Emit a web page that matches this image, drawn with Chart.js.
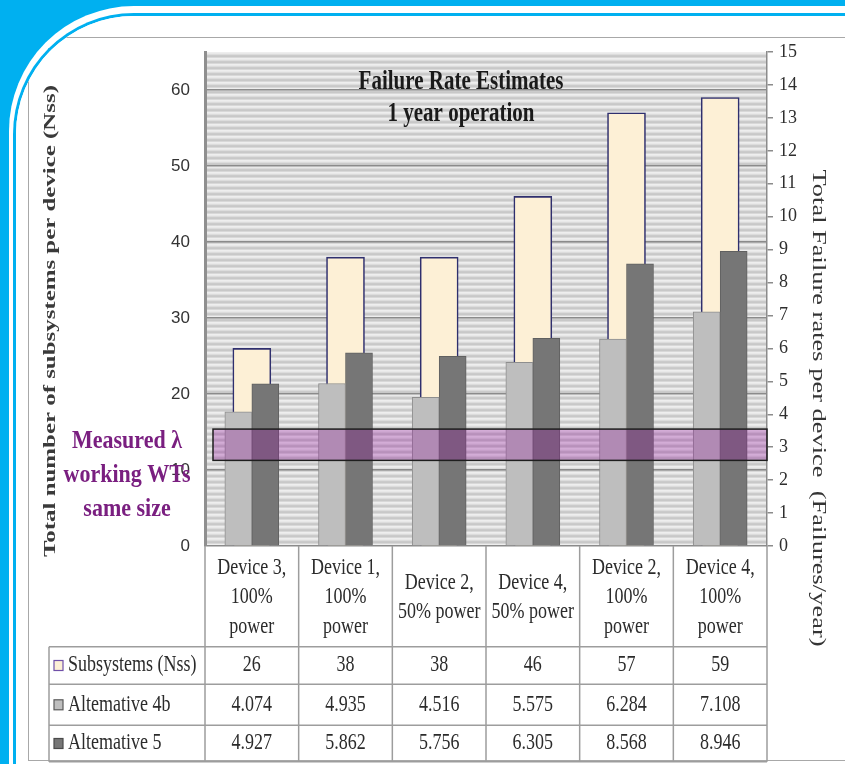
<!DOCTYPE html>
<html>
<head>
<meta charset="utf-8">
<script src="https://cdn.jsdelivr.net/npm/chart.js@4/dist/chart.umd.min.js"></script>
<style>
  html, body { margin: 0; padding: 0; }
  body { width: 845px; height: 764px; overflow: hidden; background: #00b0f0; position: relative; }
  .panel { position: absolute; left: 9px; top: 6px; width: 1000px; height: 1000px; background: #fff; border-top-left-radius: 125px; }
  .ring { position: absolute; left: 13px; top: 13px; width: 1000px; height: 1000px; border-left: 3px solid #00b0f0; border-top: 3px solid #00b0f0; border-top-left-radius: 121px; box-sizing: border-box; }
  .clip { position: absolute; left: 16px; top: 16px; width: 1000px; height: 1000px; border-top-left-radius: 118px; overflow: hidden; background: #fff; }
  .frame { position: absolute; left: 12px; top: 21px; width: 1000px; height: 724px; border: 1.5px solid #a8a8a8; box-sizing: border-box; }
  canvas { position: absolute; left: 0; top: 0; }
</style>
</head>
<body>
<div class="panel"></div>
<div class="ring"></div>
<div class="clip"><div class="frame"></div></div>
<canvas id="c" width="845" height="764"></canvas>
<script>
// Devices (column headers of the data table)
const CATEGORIES = [
  ["Device 3,", "100%", "power"],
  ["Device 1,", "100%", "power"],
  ["Device 2,", "50% power"],
  ["Device 4,", "50% power"],
  ["Device 2,", "100%", "power"],
  ["Device 4,", "100%", "power"]
];
// Number of subsystems per device (left axis)
const NSS = [26, 38, 38, 46, 57, 59];
// Failure rates per device, failures/year (right axis)
const ALT_4B = [4.074, 4.935, 4.516, 5.575, 6.284, 7.108];
const ALT_5 = [4.927, 5.862, 5.756, 6.305, 8.568, 8.946];
const SERIES_NAMES = ["Subsystems (Nss)", "Altemative 4b", "Altemative 5"];
// Measured failure rate range of working turbines of the same size
const MEASURED_BAND = [2.6, 3.55];
const NOTE_LINES = ["Measured \u03bb", "working WTs", "same size"];
const TITLE_LINES = ["Failure Rate Estimates", "1 year operation"];
const LEFT_AXIS = { min: 0, max: 65, step: 10, title: "Total number of subsystems per device (Nss)" };
const RIGHT_AXIS = { min: 0, max: 15, step: 1, title: "Total Failure rates per device  (Failures/year)" };

const SERIF = '"Liberation Serif", "Times New Roman", serif';
const CREAM = '#fdf0d6';
const LIGHT_GRAY = '#bebebe';
const DARK_GRAY = '#767676';

function drawText(ctx, text, x, y, font, color, o = {}) {
  ctx.save();
  ctx.font = font;
  ctx.fillStyle = color;
  ctx.textAlign = o.align || 'center';
  ctx.textBaseline = 'middle';
  ctx.translate(x, y);
  if (o.rot) ctx.rotate(o.rot);
  let sx = o.sx || 1;
  if (o.fit) sx = o.fit / ctx.measureText(text).width;
  ctx.scale(sx, o.sy || 1);
  ctx.fillText(text, 0, 0);
  ctx.restore();
}

function stripePattern(ctx) {
  const p = document.createElement('canvas');
  p.width = 8; p.height = 6;
  const pc = p.getContext('2d');
  const rows = ['#eeeeee', '#e9e9e9', '#dcdcdc', '#cbcbcb', '#c8c8c8', '#d8d8d8'];
  rows.forEach((c, i) => { pc.fillStyle = c; pc.fillRect(0, i, 8, 1); });
  return ctx.createPattern(p, 'repeat');
}

const backdrop = {
  id: 'backdrop',
  beforeDraw(chart) {
    const { ctx, chartArea: a } = chart;
    ctx.save();
    ctx.fillStyle = stripePattern(ctx);
    ctx.translate(0, a.top);
    ctx.fillRect(a.left, 0, a.right - a.left, a.bottom - a.top);
    ctx.restore();
  }
};

const overlay = {
  id: 'overlay',
  afterDatasetsDraw(chart) {
    const { ctx, chartArea: a } = chart;
    const y1 = chart.scales.y1;
    const top = y1.getPixelForValue(MEASURED_BAND[1]);
    const bot = y1.getPixelForValue(MEASURED_BAND[0]);
    ctx.save();
    ctx.fillStyle = 'rgba(150, 20, 160, 0.30)';
    ctx.fillRect(a.left + 8, top, a.right - a.left - 8, bot - top);
    ctx.strokeStyle = '#1e1e1e';
    ctx.lineWidth = 1.5;
    ctx.strokeRect(a.left + 8, top, a.right - a.left - 8, bot - top);
    ctx.restore();
  },
  afterDraw(chart) {
    const ctx = chart.ctx;
    // chart title inside the plot
    drawText(ctx, TITLE_LINES[0], 461, 82, 'bold 21px ' + SERIF, '#1a1a1a', { sy: 1.3 });
    drawText(ctx, TITLE_LINES[1], 461, 114, 'bold 21px ' + SERIF, '#1a1a1a', { sy: 1.3 });
    // note next to the measured range
    drawText(ctx, NOTE_LINES[0], 127, 442, 'bold 22px ' + SERIF, '#7a1f80', { sy: 1.12 });
    drawText(ctx, NOTE_LINES[1], 127, 476, 'bold 22px ' + SERIF, '#7a1f80', { sy: 1.12 });
    drawText(ctx, NOTE_LINES[2], 127, 510, 'bold 22px ' + SERIF, '#7a1f80', { sy: 1.12 });
    // axis titles
    drawText(ctx, LEFT_AXIS.title, 51, 321, 'bold 17px ' + SERIF, '#3a3a3a', { rot: -Math.PI / 2, fit: 472 });
    drawText(ctx, RIGHT_AXIS.title, 818, 408, '18px ' + SERIF, '#353535', { rot: Math.PI / 2, fit: 477 });
  }
};

const dataTable = {
  id: 'dataTable',
  afterDraw(chart) {
    const { ctx, chartArea: a } = chart;
    const xs = chart.scales.x;
    const n = CATEGORIES.length;
    const colW = (a.right - a.left) / n;
    const edges = [];
    for (let i = 0; i <= n; i++) edges.push(a.left + i * colW);
    const headTop = a.bottom, headBot = 646.7;
    const rowLines = [headBot, 684.3, 725.3, 761.7];
    const tableLeft = 49;

    ctx.save();
    ctx.strokeStyle = '#9d9d9d';
    ctx.lineWidth = 1.5;
    ctx.beginPath();
    edges.forEach(x => { ctx.moveTo(x, headTop); ctx.lineTo(x, rowLines[3]); });
    ctx.moveTo(tableLeft, headBot); ctx.lineTo(tableLeft, rowLines[3]);
    rowLines.forEach(y => { ctx.moveTo(tableLeft, y); ctx.lineTo(a.right, y); });
    ctx.stroke();
    ctx.restore();

    const font = '18px ' + SERIF;
    const ink = '#2b2b2b';
    // header: device names
    CATEGORIES.forEach((lines, i) => {
      const cx = xs.getPixelForValue(i);
      const mid = (headTop + headBot) / 2 + 1;
      const lh = 29.5;
      lines.forEach((t, k) => {
        const y = mid + (k - (lines.length - 1) / 2) * lh;
        drawText(ctx, t, cx, y, font, ink, { sy: 1.25 });
      });
    });

    // rows: legend swatch + name + values
    const rows = [
      { name: SERIES_NAMES[0], vals: NSS.map(v => String(v)), fill: CREAM, stroke: '#7050a8' },
      { name: SERIES_NAMES[1], vals: ALT_4B.map(v => v.toFixed(3)), fill: LIGHT_GRAY, stroke: '#5a5a5a' },
      { name: SERIES_NAMES[2], vals: ALT_5.map(v => v.toFixed(3)), fill: DARK_GRAY, stroke: '#4a4a4a' }
    ];
    rows.forEach((r, j) => {
      const cy = (rowLines[j] + rowLines[j + 1]) / 2;
      ctx.save();
      ctx.fillStyle = r.fill;
      ctx.strokeStyle = r.stroke;
      ctx.lineWidth = 1.2;
      ctx.fillRect(54, cy - 5, 9, 10);
      ctx.strokeRect(54, cy - 5, 9, 10);
      ctx.restore();
      drawText(ctx, r.name, 68, cy, font, ink, { align: 'left', sy: 1.25 });
      r.vals.forEach((v, i) => drawText(ctx, v, xs.getPixelForValue(i), cy, font, ink, { sy: 1.25 }));
    });
  }
};

const labels = CATEGORIES.map(c => c.join(' '));

new Chart(document.getElementById('c'), {
  type: 'bar',
  data: {
    labels,
    datasets: [
      {
        label: SERIES_NAMES[0], data: NSS, xAxisID: 'x', yAxisID: 'y', order: 2,
        grouped: false,
        backgroundColor: CREAM, borderColor: '#2f2f6e', borderWidth: 1.6, borderSkipped: 'bottom',
        barThickness: 38, maxBarThickness: 38
      },
      {
        label: SERIES_NAMES[1], data: ALT_4B, xAxisID: 'x', yAxisID: 'y1', order: 1,
        backgroundColor: LIGHT_GRAY, borderColor: '#8e8e8e', borderWidth: 1,
        barThickness: 27
      },
      {
        label: SERIES_NAMES[2], data: ALT_5, xAxisID: 'x', yAxisID: 'y1', order: 1,
        backgroundColor: DARK_GRAY, borderColor: '#606060', borderWidth: 1,
        barThickness: 27
      }
    ]
  },
  options: {
    responsive: false,
    animation: false,
    events: [],
    layout: { padding: { left: 0, right: 0, top: 52, bottom: 218 } },
    plugins: { legend: { display: false }, tooltip: { enabled: false }, title: { display: false } },
    scales: {
      x: { type: 'category', display: false, offset: true },
      y: {
        position: 'left', min: LEFT_AXIS.min, max: LEFT_AXIS.max,
        afterFit(s) { s.width = 205; },
        afterBuildTicks(s) { s.ticks = s.ticks.filter(t => t.value % LEFT_AXIS.step === 0); },
        ticks: { stepSize: LEFT_AXIS.step, padding: 15, color: '#333', font: { family: '"Liberation Sans", Arial, sans-serif', size: 17 } },
        grid: { color: '#8b8b8b', lineWidth: 1.6, drawTicks: false },
        border: { display: true, color: '#8f8f8f', width: 3 }
      },
      y1: {
        position: 'right', min: RIGHT_AXIS.min, max: RIGHT_AXIS.max,
        afterFit(s) { s.width = 78; },
        ticks: { stepSize: RIGHT_AXIS.step, padding: 6, color: '#2e2e2e', font: { family: SERIF, size: 18 } },
        grid: { drawOnChartArea: false, drawTicks: true, tickLength: 6, color: '#8b8b8b', lineWidth: 1.5 },
        border: { display: true, color: '#8b8b8b', width: 1.5 }
      }
    }
  },
  plugins: [backdrop, overlay, dataTable]
});
</script>
</body>
</html>
